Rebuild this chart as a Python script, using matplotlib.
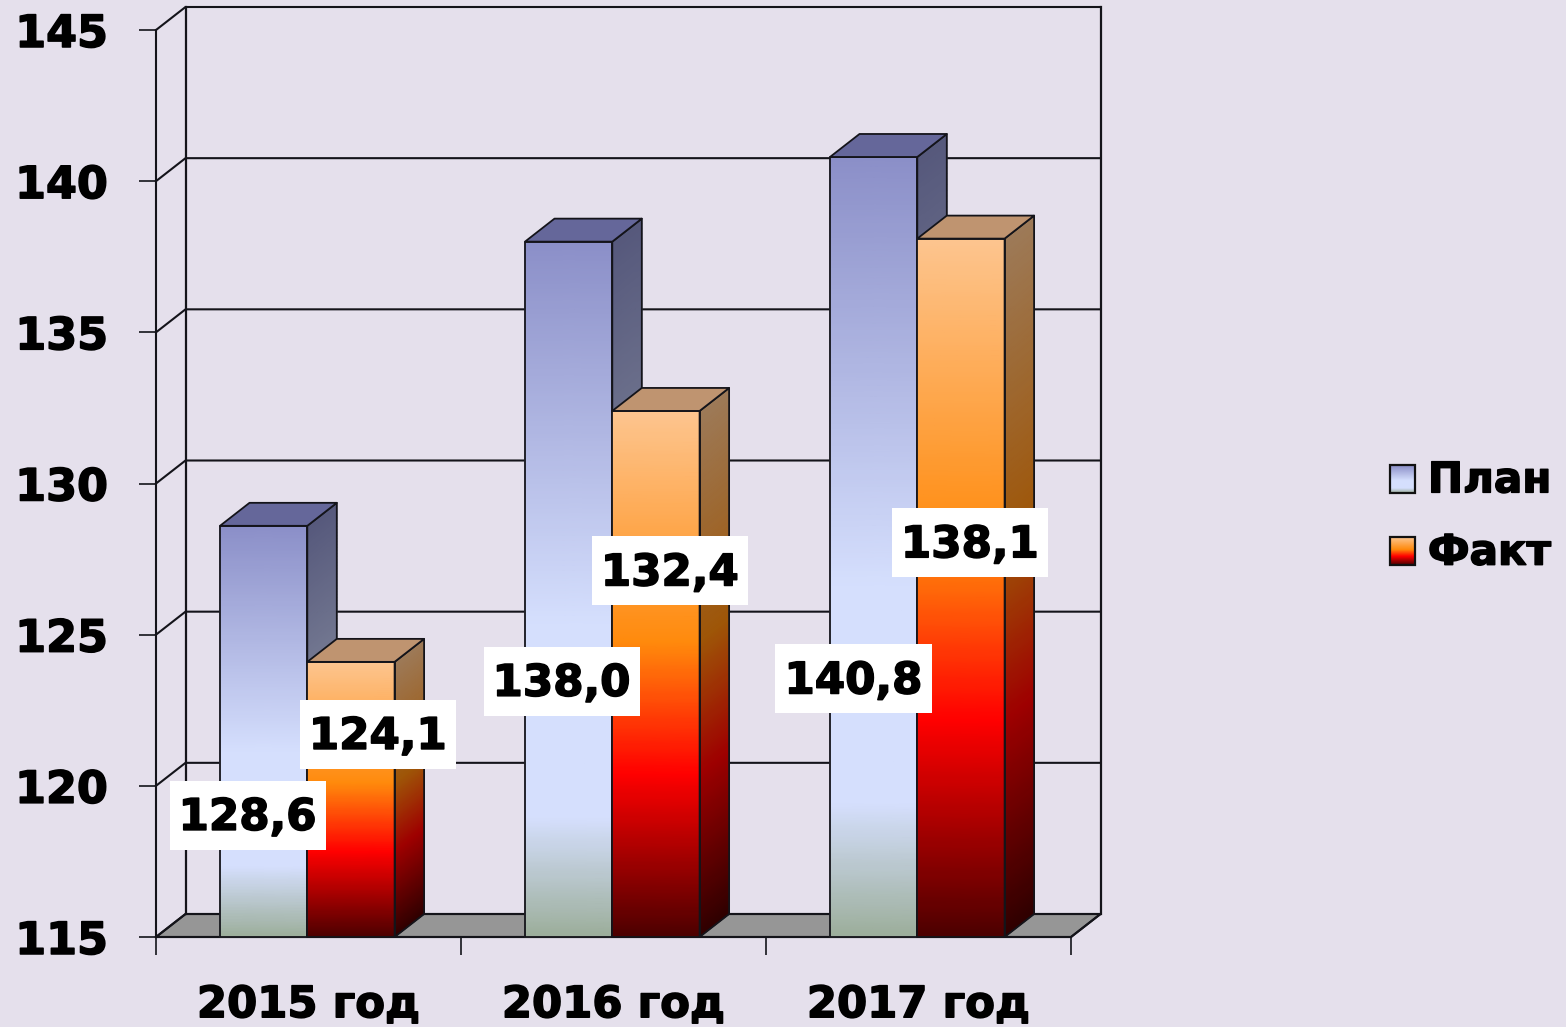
import numpy as np
import matplotlib
matplotlib.use("Agg")
import matplotlib.pyplot as plt
import matplotlib.patheffects as pe
from matplotlib.colors import LinearSegmentedColormap, to_rgb
from matplotlib.patches import Polygon, Rectangle
from matplotlib.path import Path
from matplotlib.image import BboxImage
from matplotlib.transforms import Bbox, TransformedBbox
from matplotlib.legend_handler import HandlerBase

categories = ["2015 год", "2016 год", "2017 год"]
plan = [128.6, 138.0, 140.8]
fact = [124.1, 132.4, 138.1]
series_names = ["План", "Факт"]
yticks = [115, 120, 125, 130, 135, 140, 145]

W, H = 1566, 1027
BG = "#e5e0ec"
LINE = "#14141a"
FS = 32

# front plane of the chart, in pixels from the top-left of the figure
L, R, T, B = 156, 1071, 30, 937
DX_PX, DY_PX = 29.5, 23
BAR_W_PX = 87.3
GAP_PX = 64

plt.rcParams["font.family"] = ["DejaVu Sans"]
plt.rcParams["font.weight"] = "bold"
HEAVY = [pe.withStroke(linewidth=1.1, foreground="black")]

fig = plt.figure(figsize=(W / 100, H / 100), dpi=100, facecolor=BG)
ax = fig.add_axes([L / W, 1 - B / H, (R - L) / W, (B - T) / H], facecolor="none")
ax.set_xlim(0, 3)
ax.set_ylim(115, 145)

dx = DX_PX / (R - L) * 3
dy = DY_PX / (B - T) * 30
bw = BAR_W_PX / (R - L) * 3
gap = GAP_PX / (R - L) * 3

plan_stops = [(0, "#8b8fc8"), (0.55, "#d5dffd"), (0.83, "#d5dffd"), (1, "#9cae9b")]
fact_stops = [(0, "#fdc58f"), (0.44, "#ff8a0c"), (0.69, "#ff0000"), (1, "#4c0000")]


def cmap_of(stops, k=1.0):
    return LinearSegmentedColormap.from_list(
        "c", [(p, tuple(k * v for v in to_rgb(c))) for p, c in stops], N=256)


def poly(pts, fc, ec=LINE, lw=1.5, z=3):
    ax.add_patch(Polygon(pts, closed=True, fc=fc, ec=ec, lw=lw, zorder=z,
                         clip_on=False, joinstyle="round"))


def bar3d(x0, top, stops, top_color, z):
    x1 = x0 + bw
    ys = np.linspace(115, top, 140)
    c = np.linspace(1, 0, 140)
    C = np.column_stack([c, c])
    Y = np.column_stack([ys, ys])
    ax.pcolormesh(np.column_stack([np.full(140, x0), np.full(140, x1)]), Y, C,
                  cmap=cmap_of(stops), vmin=0, vmax=1, shading="gouraud",
                  zorder=z, clip_on=False)
    Ys = np.column_stack([ys, ys + dy])
    ax.pcolormesh(np.column_stack([np.full(140, x1), np.full(140, x1 + dx)]), Ys, C,
                  cmap=cmap_of(stops, 0.62), vmin=0, vmax=1, shading="gouraud",
                  zorder=z, clip_on=False)
    poly([(x0, 115), (x1, 115), (x1, top), (x0, top)], "none", z=z + 0.1, lw=1.3)
    poly([(x1, 115), (x1 + dx, 115 + dy), (x1 + dx, top + dy), (x1, top)], "none", z=z + 0.1, lw=1.3)
    poly([(x0, top), (x1, top), (x1 + dx, top + dy), (x0 + dx, top + dy)], top_color, z=z + 0.1, lw=1.3)


# floor
poly([(0, 115), (3, 115), (3 + dx, 115 + dy), (dx, 115 + dy)], "#969696", z=1)
# walls and grid
for v in yticks:
    ax.plot([0, dx, 3 + dx], [v, v + dy, v + dy], color=LINE, lw=1.5, zorder=1.5,
            clip_on=False, solid_joinstyle="round")
ax.plot([dx, dx], [115 + dy, 145 + dy], color=LINE, lw=1.6, zorder=1.5, clip_on=False)
ax.plot([3 + dx, 3 + dx], [115 + dy, 145 + dy], color=LINE, lw=1.6, zorder=1.5, clip_on=False)
ax.plot([3, 3 + dx], [115, 115 + dy], color=LINE, lw=1.5, zorder=1.5, clip_on=False)

# bars: plan first, so the fact bar sits in front of the plan bar's side
for i in range(3):
    x0 = i + gap
    bar3d(x0, plan[i], plan_stops, "#65679a", 3 + i)
    bar3d(x0 + bw, fact[i], fact_stops, "#bf9470", 3.5 + i)


def label_box(x0, y0, width, height, mutation_size):
    # the text sits a little below the centre of its white box
    px, pbottom, ptop = 9, 11, 15
    x0, x1 = x0 - px, x0 + width + px
    y0, y1 = y0 - pbottom, y0 + height + ptop
    return Path([(x0, y0), (x1, y0), (x1, y1), (x0, y1), (x0, y0)], closed=True)


# value labels: offsets from the bar's front-face centre, in pixels
offsets_plan = [(-16, -86), (-7, -94), (-20, -134)]
offsets_fact = [(27, 63), (14, 101), (9, 43)]
for i in range(3):
    for vals, off, shift in ((plan, offsets_plan, 0), (fact, offsets_fact, bw)):
        xc = i + gap + shift + bw / 2
        ax.annotate(f"{vals[i]:.1f}".replace(".", ","),
                    xy=(xc, (115 + vals[i]) / 2), xycoords="data",
                    xytext=off[i], textcoords="offset pixels",
                    ha="center", va="center", fontsize=31.4, color="black",
                    zorder=20, annotation_clip=False, path_effects=HEAVY,
                    bbox=dict(boxstyle=label_box, fc="white", ec="none"))

# axes lines and ticks
for s in ("top", "right"):
    ax.spines[s].set_visible(False)
for s in ("left", "bottom"):
    ax.spines[s].set_color(LINE)
    ax.spines[s].set_linewidth(1.5)
    ax.spines[s].set_zorder(2)
ax.set_yticks(yticks)
ax.set_yticklabels([str(v) for v in yticks])
ax.tick_params(axis="y", length=12.5, width=1.2, color=LINE, pad=22, labelsize=FS, labelcolor="black")
ax.set_xticks([0, 1, 2, 3])
ax.set_xticklabels([])
ax.tick_params(axis="x", which="major", length=13, width=1.2, color=LINE)
ax.set_xticks([0.5, 1.5, 2.5], minor=True)
ax.set_xticklabels(categories, minor=True)
ax.tick_params(axis="x", which="minor", length=0, pad=34, labelsize=31.2, labelcolor="black")
for t in ax.get_yticklabels() + ax.get_xticklabels(minor=True):
    t.set_path_effects(HEAVY)


class GradHandler(HandlerBase):
    def __init__(self, stops):
        super().__init__()
        self.stops = stops

    def create_artists(self, legend, orig, xd, yd, w, h, fs, trans):
        up = 1.0
        bb = TransformedBbox(Bbox([[-xd, -yd - up], [-xd + w, -yd + h - up]]), trans)
        im = BboxImage(bb, cmap=cmap_of(self.stops), norm=plt.Normalize(0, 1),
                       interpolation="bilinear", origin="upper")
        im.set_data(np.linspace(0, 1, 64).reshape(-1, 1))
        frame = Rectangle((-xd, -yd - up), w, h, fc="none", ec="#111111", lw=1.6, transform=trans)
        return [im, frame]


h1 = Rectangle((0, 0), 1, 1)
h2 = Rectangle((0, 0), 1, 1)
leg = ax.legend([h1, h2], series_names,
                handler_map={h1: GradHandler(plan_stops), h2: GradHandler(fact_stops)},
                loc="center left", bbox_to_anchor=(1390 / W, 1 - 516.5 / H),
                bbox_transform=fig.transFigure, frameon=False, fontsize=30.3,
                handlelength=0.6, handleheight=0.64, handletextpad=0.3,
                labelspacing=0.72, borderpad=0, borderaxespad=0)
for t in leg.get_texts():
    t.set_path_effects(HEAVY)

fig.savefig("out.png", dpi=100, facecolor=BG)
